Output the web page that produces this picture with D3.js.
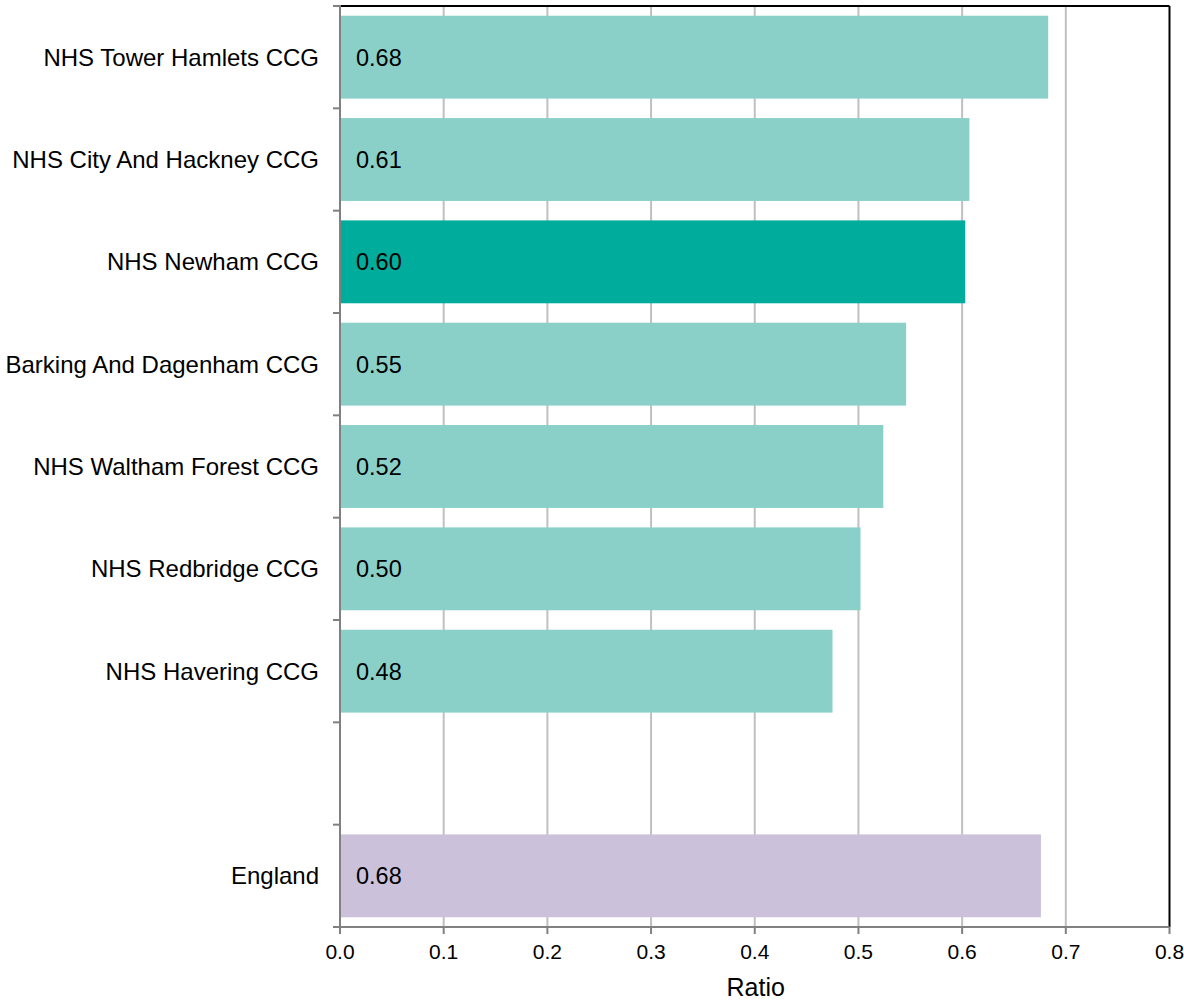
<!DOCTYPE html>
<html><head><meta charset="utf-8">
<script src="https://cdn.jsdelivr.net/npm/d3@7"></script>
<style>body{margin:0;background:#fff;} text{font-family:"Liberation Sans",Arial,sans-serif;}</style>
</head><body><svg id="c" width="1184" height="1000"></svg>
<script>
const categories = ["NHS Tower Hamlets CCG","NHS City And Hackney CCG","NHS Newham CCG","Barking And Dagenham CCG","NHS Waltham Forest CCG","NHS Redbridge CCG","NHS Havering CCG","","England"];
const values = [0.683, 0.607, 0.603, 0.546, 0.524, 0.502, 0.475, null, 0.676];
const valueLabels = ["0.68","0.61","0.60","0.55","0.52","0.50","0.48","","0.68"];
const kinds = ["peer","peer","focus","peer","peer","peer","peer","","england"];
const xTicks = [0,0.1,0.2,0.3,0.4,0.5,0.6,0.7,0.8];
const colors = {peer:"#8ad0c9", focus:"#00ac9c", england:"#cbc1db"};

const svg = d3.select("#c");
const m = {l:340, r:1169.5, t:6, b:927};
const x = d3.scaleLinear().domain([0,0.8]).range([m.l, m.r]);
const keys = categories.map((c,i)=>i);
const y = d3.scaleBand().domain(keys).range([m.t, m.b]).paddingInner(0.19).paddingOuter(0.095);
const yTickScale = d3.scaleLinear().domain([0,categories.length]).range([m.t,m.b]);

svg.append("g").selectAll("line").data(xTicks.slice(1,-1)).join("line")
  .attr("x1",d=>x(d)).attr("x2",d=>x(d)).attr("y1",m.t).attr("y2",m.b)
  .attr("stroke","#c0c0c0").attr("stroke-width",2);

const data = categories.map((c,i)=>({c,i,v:values[i],lab:valueLabels[i],k:kinds[i]})).filter(d=>d.v!=null);
svg.append("g").selectAll("rect").data(data).join("rect")
  .attr("x",x(0)).attr("y",d=>y(d.i)).attr("width",d=>x(d.v)-x(0)).attr("height",y.bandwidth())
  .attr("fill",d=>colors[d.k]);
svg.append("g").selectAll("text").data(data).join("text")
  .attr("x",x(0)+16).attr("y",d=>y(d.i)+y.bandwidth()/2).attr("dy","0.36em")
  .attr("font-size",23.5).attr("fill","#000").text(d=>d.lab);

svg.append("line").attr("x1",m.l).attr("x2",m.r).attr("y1",m.t).attr("y2",m.t).attr("stroke","#000").attr("stroke-width",2);
svg.append("line").attr("x1",m.r).attr("x2",m.r).attr("y1",m.t).attr("y2",m.b).attr("stroke","#000").attr("stroke-width",2);

const yt = d3.range(categories.length+1);
svg.append("g").selectAll("line").data(yt).join("line")
  .attr("x1",m.l-7).attr("x2",m.l).attr("y1",d=>yTickScale(d)).attr("y2",d=>yTickScale(d))
  .attr("stroke","#808080").attr("stroke-width",2);
svg.append("line").attr("x1",m.l).attr("x2",m.l).attr("y1",m.t-1).attr("y2",m.b+1).attr("stroke","#808080").attr("stroke-width",2);
svg.append("g").selectAll("text").data(categories.map((c,i)=>({c,i}))).join("text")
  .attr("x",m.l-21).attr("y",d=>y(d.i)+y.bandwidth()/2).attr("dy","0.36em")
  .attr("text-anchor","end").attr("font-size",24).attr("fill","#000").text(d=>d.c);

svg.append("line").attr("x1",m.l-7).attr("x2",m.r).attr("y1",m.b).attr("y2",m.b).attr("stroke","#808080").attr("stroke-width",2);
svg.append("g").selectAll("line").data(xTicks).join("line")
  .attr("x1",d=>x(d)).attr("x2",d=>x(d)).attr("y1",m.b).attr("y2",m.b+7)
  .attr("stroke","#808080").attr("stroke-width",2);
svg.append("g").selectAll("text").data(xTicks).join("text")
  .attr("x",d=>x(d)).attr("y",m.b+32).attr("text-anchor","middle").attr("font-size",21).attr("fill","#000")
  .text(d=>d3.format(".1f")(d));
svg.append("text").attr("x",(m.l+m.r)/2+1).attr("y",996).attr("text-anchor","middle").attr("font-size",25).attr("fill","#000").text("Ratio");
</script></body></html>
